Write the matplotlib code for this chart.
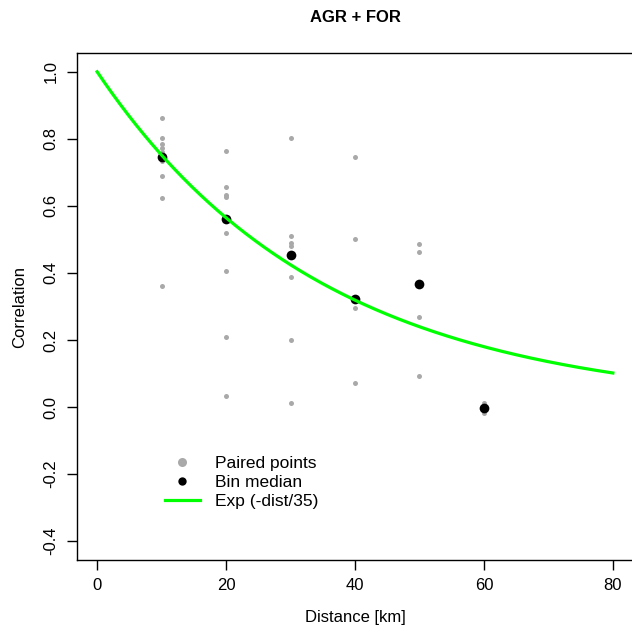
import numpy as np
import matplotlib
matplotlib.use("Agg")
import matplotlib.pyplot as plt
from matplotlib.lines import Line2D

plt.rcParams['font.family'] = ['Liberation Sans', 'DejaVu Sans']

# Data
dist_10 = [0.862, 0.802, 0.785, 0.772, 0.760, 0.745, 0.735, 0.690, 0.623, 0.361]
dist_20 = [0.764, 0.655, 0.633, 0.626, 0.561, 0.520, 0.406, 0.210, 0.034]
dist_30 = [0.802, 0.510, 0.490, 0.480, 0.453, 0.389, 0.200, 0.011]
dist_40 = [0.747, 0.502, 0.323, 0.296, 0.071]
dist_50 = [0.487, 0.464, 0.268, 0.093]
dist_60 = [0.013, -0.004, -0.017]
bin_dist = [10, 20, 30, 40, 50, 60]
paired = [dist_10, dist_20, dist_30, dist_40, dist_50, dist_60]
bin_median = [0.745, 0.561, 0.453, 0.323, 0.367, -0.004]
decay_len = 35
curve_x = np.linspace(0, 80, 400)

fig = plt.figure(figsize=(6.32, 6.26), dpi=100)
ax = fig.add_axes([76.5 / 632, 1 - 560 / 626, 557 / 632, (560 - 53) / 626])

for d, vals in zip(bin_dist, paired):
    ax.plot([d] * len(vals), vals, 'o', color='#A9A9A9', markersize=3.6,
            markeredgewidth=0, zorder=2)
ax.plot(bin_dist, bin_median, 'o', color='black', markersize=7,
        markeredgewidth=0, zorder=3)
ax.plot(curve_x, np.exp(-curve_x / decay_len), color='#00FF00', lw=2.3, zorder=4)

ax.set_xlim(-3.2, 83.2)
ax.set_ylim(-0.456, 1.056)
ax.set_xticks([0, 20, 40, 60, 80])
ax.set_yticks([-0.4, -0.2, 0.0, 0.2, 0.4, 0.6, 0.8, 1.0])
ax.set_yticklabels(['-0.4', '-0.2', '0.0', '0.2', '0.4', '0.6', '0.8', '1.0'],
                   rotation=90, va='center')
ax.tick_params(axis='both', labelsize=12, length=7, width=1, pad=6, color='black')
for s in ax.spines.values():
    s.set_linewidth(1)
ax.set_xlabel('Distance [km]', fontsize=12, labelpad=12)
ax.set_ylabel('Correlation', fontsize=12, labelpad=12)
fig.text(355 / 632, 1 - 18 / 626, 'AGR + FOR', ha='center', va='center',
         fontsize=12, fontweight='bold')

handles = [
    Line2D([], [], marker='o', ls='none', color='#A9A9A9', markersize=6.5, markeredgewidth=0),
    Line2D([], [], marker='o', ls='none', color='black', markersize=6, markeredgewidth=0),
    Line2D([], [], color='#00FF00', lw=2.3),
]
ax.legend(handles, ['Paired points', 'Bin median', 'Exp (-dist/35)'],
          loc='upper left', bbox_to_anchor=((165 - 76.5) / 557, (560 - 456) / 507),
          frameon=False, fontsize=12.5, handlelength=2.0, handletextpad=0.86,
          labelspacing=0.22, borderaxespad=0, borderpad=0)

fig.savefig('out.png', dpi=100)
